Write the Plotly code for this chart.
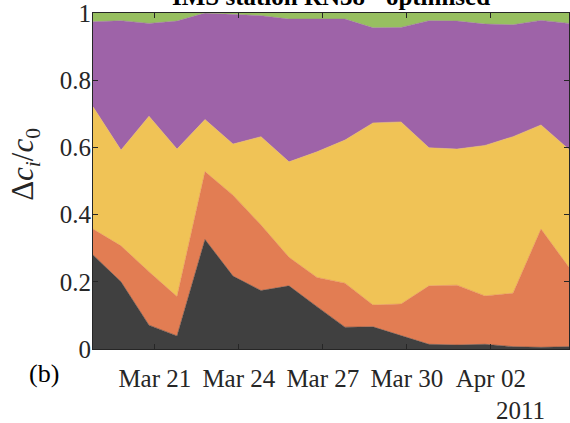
import plotly.graph_objects as go
import pandas as pd

# Daily sample times
dates = pd.date_range("2011-03-18 19:00", periods=18, freq="D")

# Layer contributions (bottom to top)
layer_dark = [0.280, 0.200, 0.071, 0.039, 0.326, 0.217, 0.174, 0.188, 0.126,
              0.065, 0.066, 0.040, 0.014, 0.012, 0.014, 0.007, 0.005, 0.007]
layer_orange = [0.077, 0.107, 0.159, 0.117, 0.202, 0.241, 0.195, 0.085, 0.087,
                0.131, 0.065, 0.094, 0.174, 0.178, 0.144, 0.159, 0.352, 0.236]
layer_yellow = [0.364, 0.285, 0.463, 0.439, 0.155, 0.152, 0.263, 0.284, 0.374,
                0.426, 0.542, 0.542, 0.411, 0.405, 0.448, 0.466, 0.310, 0.351]
layer_purple = [0.253, 0.385, 0.276, 0.381, 0.317, 0.387, 0.360, 0.425, 0.395,
                0.360, 0.283, 0.281, 0.378, 0.381, 0.361, 0.333, 0.311, 0.375]
layer_green = [0.026, 0.023, 0.031, 0.024, 0.000, 0.003, 0.008, 0.018, 0.018,
               0.018, 0.044, 0.043, 0.023, 0.024, 0.033, 0.035, 0.022, 0.031]

layers = [layer_dark, layer_orange, layer_yellow, layer_purple, layer_green]
colors = ["#404040", "#E27D53", "#F0C356", "#9E63A8", "#97BF60"]

tick_vals = ["2011-03-21", "2011-03-24", "2011-03-27", "2011-03-30", "2011-04-02"]
tick_text = ["Mar 21", "Mar 24", "Mar 27", "Mar 30", "Apr 02"]
y_ticks = [0, 0.2, 0.4, 0.6, 0.8, 1]
y_tick_text = ["0", "0.2", "0.4", "0.6", "0.8", "1"]

FONT = "Liberation Serif, Times New Roman, serif"

fig = go.Figure()
for vals, col in zip(layers, colors):
    fig.add_trace(go.Scatter(
        x=dates, y=vals, stackgroup="one", mode="lines",
        line=dict(width=0.5, color=col), fillcolor=col, hoverinfo="skip",
        showlegend=False,
    ))

axis_col = "#262626"
fig.update_layout(
    width=570, height=423,
    margin=dict(l=93, r=1, t=13, b=74, autoexpand=False),
    paper_bgcolor="white", plot_bgcolor="white",
    font=dict(family=FONT, size=25, color=axis_col),
    xaxis=dict(
        range=[dates[0], dates[-1]], tickvals=tick_vals, ticktext=tick_text,
        showgrid=False, zeroline=False, showline=True, linecolor=axis_col,
        linewidth=1, mirror="ticks", ticks="inside", ticklen=5,
        tickcolor=axis_col, tickfont=dict(family=FONT, size=25, color=axis_col),
        automargin=False, ticklabeloverflow="allow", ticklabelstandoff=7,
    ),
    yaxis=dict(
        range=[0, 1.0001], tickvals=y_ticks, ticktext=y_tick_text,
        showgrid=False, zeroline=False, showline=True, linecolor=axis_col,
        linewidth=1, mirror="ticks", ticks="inside", ticklen=5,
        tickcolor=axis_col, tickfont=dict(family=FONT, size=25, color=axis_col),
        automargin=False, ticklabeloverflow="allow", ticklabelstandoff=-4,
    ),
)

fig.add_annotation(
    text="<b>IMS station RN38 - optimised</b>", xref="paper", yref="paper",
    x=0.5, y=1, xanchor="center", yanchor="bottom", yshift=1, showarrow=False,
    font=dict(family=FONT, size=25, color="black"),
)
fig.add_annotation(
    text="Δ<i>c<sub>i</sub></i>/<i>c</i><sub>0</sub>", xref="paper", yref="paper",
    x=0, y=0.548, xanchor="center", yanchor="middle", xshift=-68, textangle=-90,
    showarrow=False, font=dict(family=FONT, size=31, color=axis_col),
)
fig.add_annotation(
    text="(b)", xref="paper", yref="paper", x=0, y=0, xanchor="center",
    yanchor="middle", xshift=-49, yshift=-24, showarrow=False,
    font=dict(family=FONT, size=26, color="black"),
)
fig.add_annotation(
    text="2011", xref="paper", yref="paper", x=1, y=0, xanchor="right",
    yanchor="middle", xshift=-22, yshift=-61, showarrow=False,
    font=dict(family=FONT, size=25, color=axis_col),
)

fig.write_html(
    "out.html",
    config={"displayModeBar": False},
    post_script="document.body.style.margin='0';document.body.style.padding='0';",
)
